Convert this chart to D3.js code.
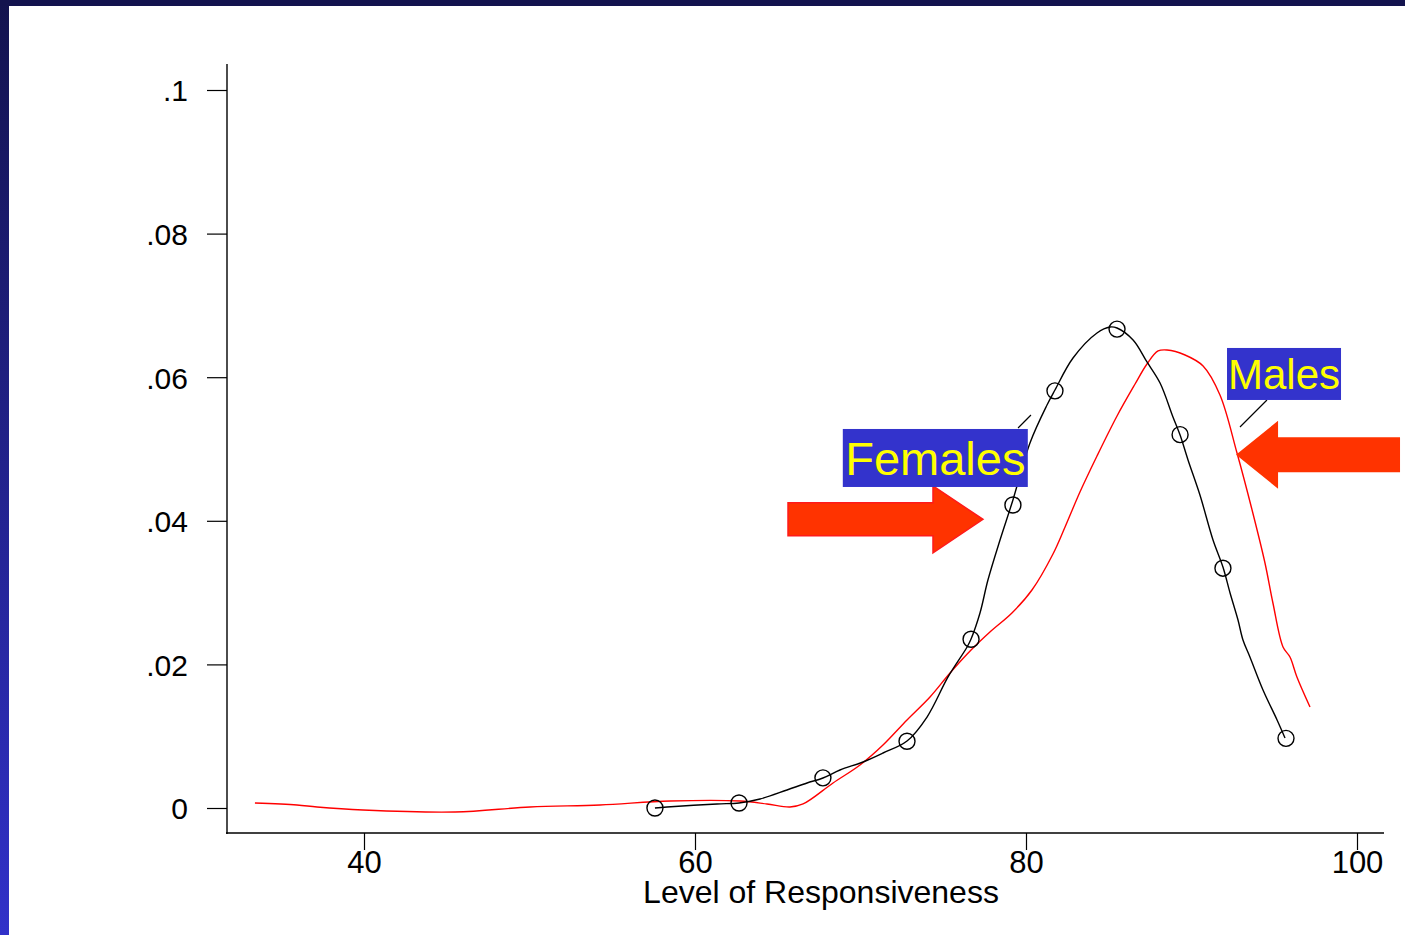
<!DOCTYPE html>
<html><head><meta charset="utf-8">
<script src="https://cdn.jsdelivr.net/npm/d3@7"></script>
<style>html,body{margin:0;padding:0;background:#fff;}svg{display:block;}</style>
</head><body>
<svg id="chart" width="1405" height="935"></svg>
<script>
// ---- data ----
const femalesX = [57.58,58.31,61.33,62.66,63.93,65.56,66.77,67.73,68.76,70.15,71.36,72.81,74.02,75.29,76.44,76.68,77.22,77.70,78.43,79.21,80.24,81.27,81.75,82.84,84.29,85.08,85.50,86.47,87.31,88.10,88.88,89.31,89.79,90.51,91.30,91.90,92.33,92.81,93.11,93.53,94.32,95.17,95.65];
const femalesY = [0,0.00014,0.00056,0.0007,0.00125,0.00251,0.00348,0.00418,0.00529,0.00641,0.00766,0.00933,0.01267,0.01825,0.02242,0.02354,0.02716,0.03175,0.03733,0.0429,0.05084,0.05613,0.05822,0.06267,0.06616,0.06699,0.06685,0.06518,0.06212,0.05919,0.05446,0.05195,0.04847,0.04359,0.03733,0.03357,0.02994,0.02618,0.0234,0.02103,0.01643,0.01226,0.00975];
const femaleMarkX = [57.58,62.66,67.73,72.81,76.68,79.21,81.75,85.50,89.31,91.90,95.71];
const femaleMarkY = [0,0.0007,0.0042,0.0093,0.0235,0.0422,0.0581,0.0667,0.0520,0.0334,0.0097];
const malesX = [33.41,35.95,37.16,39.94,45.50,50.03,54.26,58.49,62.72,64.35,65.74,66.53,68.34,69.97,71.36,72.81,74.20,75.41,76.68,77.82,79.15,80.36,81.63,82.36,83.26,84.29,85.50,86.59,87.31,87.98,88.52,89.61,90.70,91.72,92.75,93.66,94.44,94.92,95.53,95.95,96.37,97.16];
const malesY = [0.0007,0.00042,0.00014,-0.00028,-0.00056,0.00014,0.00042,0.00097,0.00097,0.00056,0.00014,0.00056,0.00348,0.00599,0.00877,0.01226,0.01546,0.0188,0.0220,0.02451,0.02716,0.03036,0.03538,0.03914,0.04401,0.04903,0.0546,0.05905,0.06184,0.06365,0.06379,0.06309,0.06156,0.05752,0.04944,0.0415,0.03412,0.02855,0.02242,0.02103,0.01825,0.01407];
const xTicks = [40,60,80,100];
const xTickLabels = ["40","60","80","100"];
const yTicks = [0,0.02,0.04,0.06,0.08,0.1];
const yTickLabels = ["0",".02",".04",".06",".08",".1"];
const xTitle = "Level of Responsiveness";
const seriesLabels = ["Females","Males"];

// ---- drawing ----
const svg = d3.select("#chart");
const FONT = "'Liberation Sans', Arial, Helvetica, sans-serif";

// frame
const defs = svg.append("defs");
const g1 = defs.append("linearGradient").attr("id","lg").attr("x1",0).attr("y1",0).attr("x2",0).attr("y2",1);
g1.append("stop").attr("offset","0%").attr("stop-color","#13134e");
g1.append("stop").attr("offset","100%").attr("stop-color","#3131c9");
svg.append("rect").attr("width",1405).attr("height",935).attr("fill","#fff");
svg.append("rect").attr("x",0).attr("y",0).attr("width",9).attr("height",935).attr("fill","url(#lg)");
svg.append("rect").attr("x",0).attr("y",0).attr("width",1405).attr("height",6).attr("fill","#13134e");

const x = d3.scaleLinear().domain([40,100]).range([364,1357]);
const y = d3.scaleLinear().domain([0,0.1]).range([808,90]);

// axis lines
svg.append("line").attr("x1",227).attr("x2",227).attr("y1",64).attr("y2",834).attr("stroke","#000").attr("stroke-width",1.4);
svg.append("line").attr("x1",226).attr("x2",1384).attr("y1",833).attr("y2",833).attr("stroke","#000").attr("stroke-width",1.4);

// y axis ticks
const yAxis = d3.axisLeft(y).tickValues(yTicks).tickSize(20).tickPadding(19)
  .tickFormat((d,i)=>yTickLabels[i]);
const ya = svg.append("g").attr("transform","translate(227,0)").call(yAxis);
ya.select(".domain").remove();
ya.selectAll("line").attr("stroke","#000").attr("stroke-width",1.2);
ya.selectAll("text").attr("font-family",FONT).attr("font-size",30).attr("fill","#000").attr("dy","0.36em");

// x axis ticks
const xAxis = d3.axisBottom(x).tickValues(xTicks).tickSize(17).tickPadding(0)
  .tickFormat((d,i)=>xTickLabels[i]);
const xa = svg.append("g").attr("transform","translate(0,833)").call(xAxis);
xa.select(".domain").remove();
xa.selectAll("line").attr("stroke","#000").attr("stroke-width",1.2);
xa.selectAll("text").attr("font-family",FONT).attr("font-size",31).attr("fill","#000").attr("y",40).attr("dy",null);

svg.append("text").attr("x",821).attr("y",903).attr("text-anchor","middle")
  .attr("font-family",FONT).attr("font-size",32).attr("fill","#000").text(xTitle);

// curves
const line = d3.line().x(d=>x(d[0])).y(d=>y(d[1])).curve(d3.curveCatmullRom.alpha(0.5));
svg.append("path").datum(malesX.map((v,i)=>[v,malesY[i]]))
  .attr("d",line).attr("fill","none").attr("stroke","#ff0000").attr("stroke-width",1.4);
svg.append("path").datum(femalesX.map((v,i)=>[v,femalesY[i]]))
  .attr("d",line).attr("fill","none").attr("stroke","#000").attr("stroke-width",1.4);
svg.append("g").selectAll("circle").data(femaleMarkX.map((v,i)=>[v,femaleMarkY[i]])).join("circle")
  .attr("cx",d=>x(d[0])).attr("cy",d=>y(d[1])).attr("r",8)
  .attr("fill","none").attr("stroke","#000").attr("stroke-width",1.4);

// annotations (anchored in data units)
function arrow(tailX, baseX, tipX, cy, bodyH, headH){
  const X0=x(tailX), X1=x(baseX), X2=x(tipX), Y=y(cy);
  return [[X0,Y-bodyH],[X1,Y-bodyH],[X1,Y-headH],[X2,Y],[X1,Y+headH],[X1,Y+bodyH],[X0,Y+bodyH]];
}
svg.append("polygon").attr("points",arrow(65.62,74.38,77.40,0.0402,16.5,33.5).join(" "))
  .attr("fill","#ff3300").attr("stroke","#ff1a1a").attr("stroke-width",1.5);
svg.append("polygon").attr("points",arrow(102.6,95.23,92.69,0.0492,17.5,34).join(" "))
  .attr("fill","#ff3300").attr("stroke","none");

// leader lines
svg.append("line").attr("x1",x(79.52)).attr("y1",y(0.05292)).attr("x2",x(80.30)).attr("y2",y(0.05474)).attr("stroke","#000").attr("stroke-width",1.2);
svg.append("line").attr("x1",x(92.93)).attr("y1",y(0.05306)).attr("x2",x(94.56)).attr("y2",y(0.05682)).attr("stroke","#000").attr("stroke-width",1.2);

function label(txt, cx, cy, w, h, fs){
  const X=x(cx), Y=y(cy);
  svg.append("rect").attr("x",X-w/2).attr("y",Y-h/2).attr("width",w).attr("height",h).attr("fill","#3333cc");
  svg.append("text").attr("x",X).attr("y",Y).attr("dy","0.36em").attr("text-anchor","middle")
    .attr("font-family",FONT).attr("font-size",fs).attr("fill","#ffff00").text(txt);
}
label(seriesLabels[0], 74.52, 0.04875, 185, 58, 47);
label(seriesLabels[1], 95.59, 0.06045, 114, 52, 42);
</script>
</body></html>
